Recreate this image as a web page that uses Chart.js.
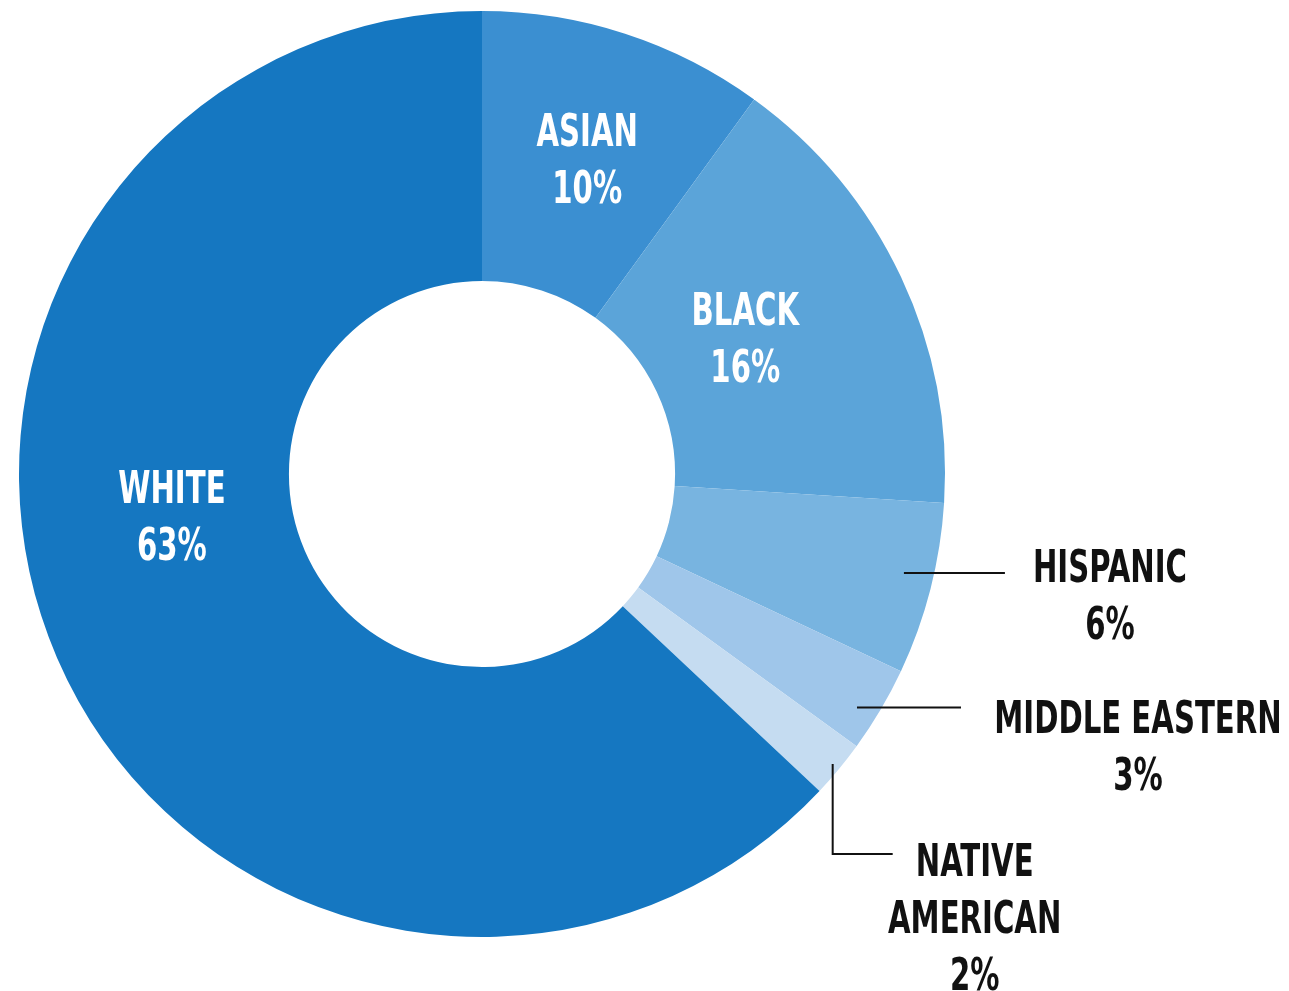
<!DOCTYPE html>
<html><head><meta charset="utf-8">
<script src="https://cdn.jsdelivr.net/npm/chart.js@4.4.1/dist/chart.umd.min.js"></script>
<style>html,body{margin:0;padding:0;background:#fff;overflow:hidden}#wrap{width:1289px;height:991px;position:relative}</style>
</head><body><div id="wrap"><canvas id="c" width="1289" height="991"></canvas></div>
<script>
const categories = ['ASIAN','BLACK','HISPANIC','MIDDLE EASTERN','NATIVE AMERICAN','WHITE'];
const shares = [10,16,6,3,2,63];
const sliceColors = ['#3b8fd1','#5ba4d9','#78b4e0','#9fc6ea','#c5dcf1','#1577c1'];
const labelLines = [['ASIAN'],['BLACK'],['HISPANIC'],['MIDDLE EASTERN'],['NATIVE','AMERICAN'],['WHITE']];

const labelLayout = [
  {kind:'inside', shift:0.7, r:0.709, color:'#ffffff'},
  {kind:'inside', shift:-1.4, r:0.636, color:'#ffffff'},
  {kind:'outside', shift:-1.2, r:0.936, leader:'h', len:101, dx:105, dy:-3, color:'#111111'},
  {kind:'outside', shift:1.3, r:0.954, leader:'h', len:104, dx:177, dy:14, color:'#111111'},
  {kind:'outside', shift:0, r:0.983, leader:'L', drop:90, len:60, dx:82, dy:10, color:'#111111'},
  {kind:'inside', shift:15, r:0.677, color:'#ffffff'}
];
const FONT = "bold 45px 'Liberation Sans Narrow', 'Arial Narrow', 'DejaVu Sans Condensed', 'Liberation Sans', sans-serif";
const LINE_H = 57;

const labelPlugin = {
  id: 'sliceLabels',
  afterDatasetsDraw(chart) {
    const ctx = chart.ctx;
    const meta = chart.getDatasetMeta(0);
    ctx.save();
    ctx.font = FONT;
    const sx = Math.max(0.6, Math.min(1.2, 154 / ctx.measureText('HISPANIC').width));
    ctx.textAlign = 'center';
    ctx.textBaseline = 'middle';
    meta.data.forEach((arc, i) => {
      const p = arc.getProps(['x','y','startAngle','endAngle','innerRadius','outerRadius'], true);
      const L = labelLayout[i];
      const a = (p.startAngle + p.endAngle) / 2 + L.shift * Math.PI / 180;
      const rr = L.r * p.outerRadius;
      const px = p.x + rr * Math.cos(a);
      const py = p.y + rr * Math.sin(a);
      const lines = labelLines[i].concat([shares[i] + '%']);
      let tx, ty;
      if (L.kind === 'inside') {
        tx = px; ty = py - (lines.length - 1) * LINE_H / 2;
      } else {
        ctx.strokeStyle = '#111111';
        ctx.lineWidth = 2;
        ctx.beginPath();
        ctx.moveTo(px, py);
        let ex = px, ey = py;
        if (L.leader === 'L') { ey = py + L.drop; ctx.lineTo(ex, ey); }
        ex = ex + L.len;
        ctx.lineTo(ex, ey);
        ctx.stroke();
        tx = ex + L.dx; ty = ey + L.dy;
      }
      ctx.fillStyle = L.color;
      lines.forEach((t, k) => {
        ctx.save();
        ctx.translate(tx, ty + k * LINE_H);
        ctx.scale(sx, 1);
        ctx.fillText(t, 0, 0);
        ctx.restore();
      });
    });
    ctx.restore();
  }
};

new Chart(document.getElementById('c'), {
  type: 'doughnut',
  data: {
    labels: categories,
    datasets: [{ data: shares, backgroundColor: sliceColors, borderWidth: 0, hoverOffset: 0 }]
  },
  options: {
    responsive: false,
    animation: false,
    cutout: '41.7%',
    layout: { padding: { left: 19, top: 11, right: 344, bottom: 54 } },
    plugins: { legend: { display: false }, tooltip: { enabled: false } }
  },
  plugins: [labelPlugin]
});
</script></body></html>
